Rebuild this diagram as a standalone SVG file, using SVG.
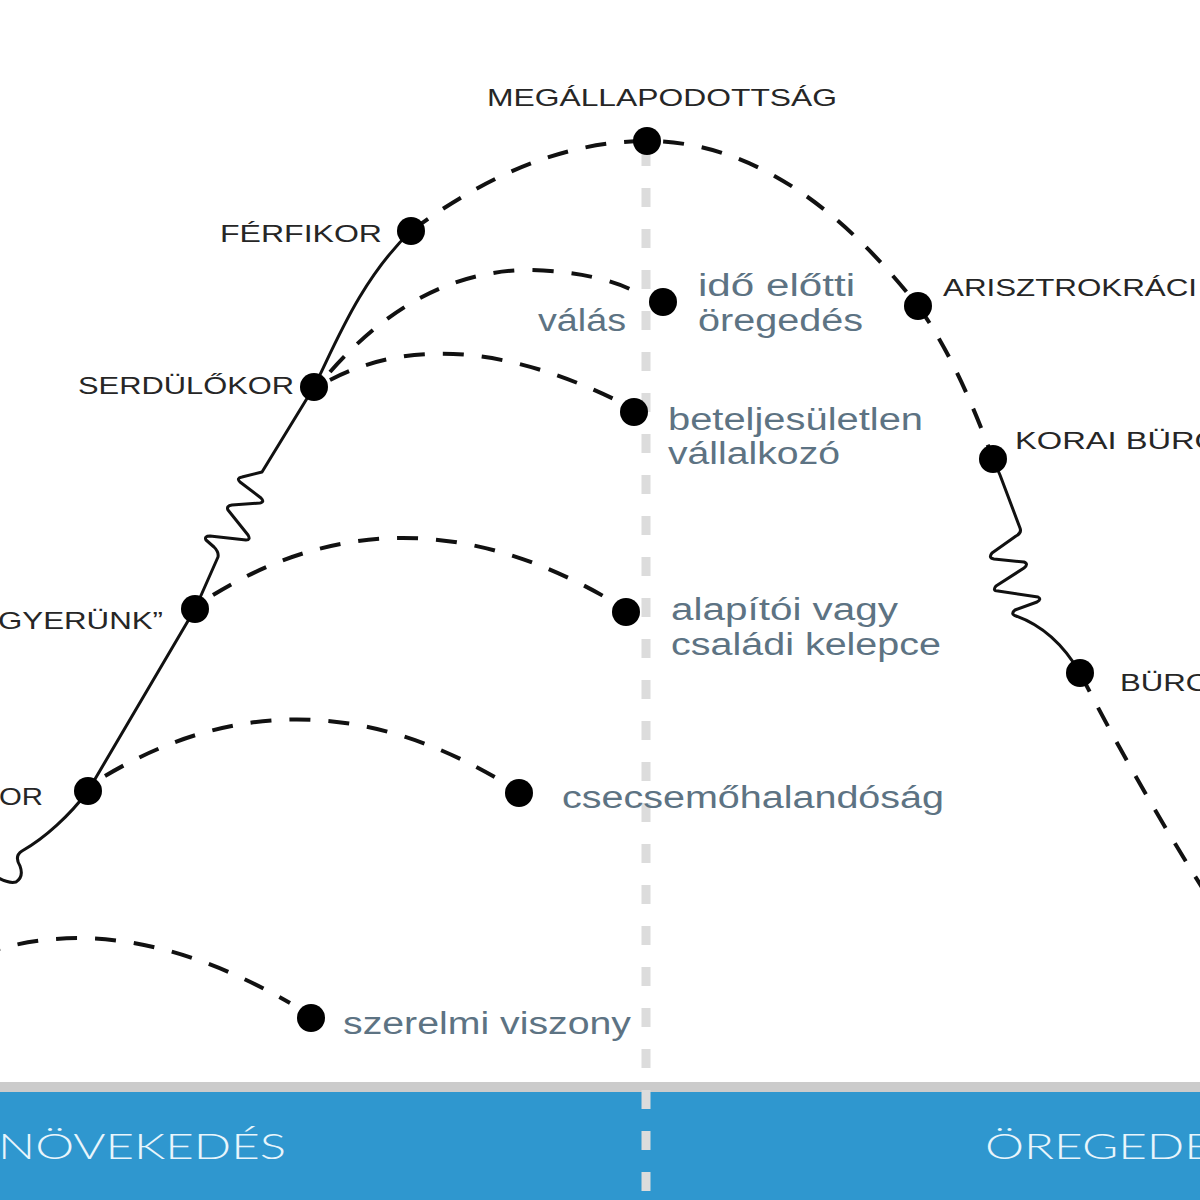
<svg xmlns="http://www.w3.org/2000/svg" width="1200" height="1200" viewBox="0 0 1200 1200">
<style>
.dash{fill:none;stroke:#111;stroke-width:4;stroke-dasharray:21 18;}
.solid{fill:none;stroke:#111;stroke-width:3;stroke-linejoin:round;stroke-linecap:round;}
.dot{fill:#000;}
.lbl{font-family:"Liberation Sans","Noto Sans",sans-serif;font-size:24px;fill:#262626;}
.sub{font-family:"Liberation Sans","Noto Sans",sans-serif;font-size:31px;fill:#5d7383;}
.band{font-family:Lato,"Open Sans","Liberation Sans",sans-serif;font-weight:300;font-size:36px;fill:#e8f5fc;}
</style>
<rect width="1200" height="1200" fill="#fff"/>
<g id="axis">
<rect x="0" y="1082" width="1200" height="10" fill="#cbcbcb"/>
<rect x="0" y="1092" width="1200" height="108" fill="#2f97cf"/>
<line x1="646" y1="147" x2="646" y2="1200" stroke="#dcdcdc" stroke-width="9" stroke-dasharray="19 22"/>
<text class="band" x="-2" y="1159" textLength="288" lengthAdjust="spacingAndGlyphs">NÖVEKEDÉS</text>
<text class="band" x="985" y="1159" textLength="228" lengthAdjust="spacingAndGlyphs">ÖREGEDE</text>
</g>
<g id="connectors">
<path class="solid" d="M88,791 C70,815 45,838 22,851 Q14,856 20,866 Q24,877 16,882 Q8,884 -5,876"/>
<path class="solid" d="M88,791 L195,609 L218,557 Q219,552 214,547 L206,540 Q204,536 210,536 L246,540 Q251,540 248,535 L228,510 Q226,506 232,505 L260,503 Q265,502 261,498 L240,482 Q236,478 242,477 L262,472 L314,387 C335,345 360,280 411,231"/>
<path class="dash" d="M411,231 C480,180 560,141 647,141 C760,141 850,220 918,306 C950,350 975,410 993,459"/>
<path class="solid" d="M993,459 L1000,475 L1020,528 Q1022,533 1016,536 L992,553 Q988,558 994,559 L1024,562 Q1029,564 1024,568 L996,586 Q992,591 998,591 L1038,597 Q1042,599 1037,602 L1015,610 Q1010,614 1016,616 Q1055,630 1080,673"/>
<path class="dash" d="M1080,673 Q1140,790 1210,900"/>
<path class="dash" d="M330,372 Q420,270 530,270 Q600,272 640,294"/>
<path class="dash" d="M330,380 Q450,318 620,402"/>
<path class="dash" d="M213,595 Q400,480 605,597"/>
<path class="dash" d="M105,776 Q300,660 503,782"/>
<path class="dash" d="M-20,955 Q120,905 290,1003"/>
</g>
<g id="n-megallapodottsag"><circle class="dot" cx="647" cy="141" r="14"/><text class="lbl" x="487" y="106" textLength="350" lengthAdjust="spacingAndGlyphs">MEGÁLLAPODOTTSÁG</text></g>
<g id="n-ferfikor"><circle class="dot" cx="411" cy="231" r="14"/><text class="lbl" x="220" y="242" textLength="162" lengthAdjust="spacingAndGlyphs">FÉRFIKOR</text></g>
<g id="n-serdulokor"><circle class="dot" cx="314" cy="387" r="14"/><text class="lbl" x="78" y="394" textLength="216" lengthAdjust="spacingAndGlyphs">SERDÜLŐKOR</text></g>
<g id="n-gyerunk"><circle class="dot" cx="195" cy="609" r="14"/><text class="lbl" x="-2" y="629" textLength="165" lengthAdjust="spacingAndGlyphs">GYERÜNK”</text></g>
<g id="n-kor"><circle class="dot" cx="88" cy="791" r="14"/><text class="lbl" x="-1" y="805" textLength="44" lengthAdjust="spacingAndGlyphs">OR</text></g>
<g id="n-ido"><circle class="dot" cx="663" cy="302" r="14"/><text class="sub" x="698" y="296" textLength="157" lengthAdjust="spacingAndGlyphs">idő előtti</text><text class="sub" x="698" y="331" textLength="165" lengthAdjust="spacingAndGlyphs">öregedés</text><text class="sub" x="538" y="331" textLength="88" lengthAdjust="spacingAndGlyphs">válás</text></g>
<g id="n-betel"><circle class="dot" cx="634" cy="412" r="14"/><text class="sub" x="668" y="430" textLength="255" lengthAdjust="spacingAndGlyphs">beteljesületlen</text><text class="sub" x="668" y="464" textLength="172" lengthAdjust="spacingAndGlyphs">vállalkozó</text></g>
<g id="n-alapitoi"><circle class="dot" cx="626" cy="612" r="14"/><text class="sub" x="671" y="620" textLength="227" lengthAdjust="spacingAndGlyphs">alapítói vagy</text><text class="sub" x="671" y="655" textLength="270" lengthAdjust="spacingAndGlyphs">családi kelepce</text></g>
<g id="n-csecsemo"><circle class="dot" cx="519" cy="793" r="14"/><text class="sub" x="562" y="808" textLength="382" lengthAdjust="spacingAndGlyphs">csecsemőhalandóság</text></g>
<g id="n-szerelmi"><circle class="dot" cx="311" cy="1018" r="14"/><text class="sub" x="343" y="1034" textLength="288" lengthAdjust="spacingAndGlyphs">szerelmi viszony</text></g>
<g id="n-arisztrokracia"><circle class="dot" cx="918" cy="306" r="14"/><text class="lbl" x="943" y="296" textLength="254" lengthAdjust="spacingAndGlyphs">ARISZTROKRÁCI</text></g>
<g id="n-korai"><circle class="dot" cx="993" cy="459" r="14"/><text class="lbl" x="1015" y="449" textLength="205" lengthAdjust="spacingAndGlyphs">KORAI BÜRO</text></g>
<g id="n-burokracia"><circle class="dot" cx="1080" cy="673" r="14"/><text class="lbl" x="1120" y="691" textLength="90" lengthAdjust="spacingAndGlyphs">BÜRO</text></g>
</svg>
